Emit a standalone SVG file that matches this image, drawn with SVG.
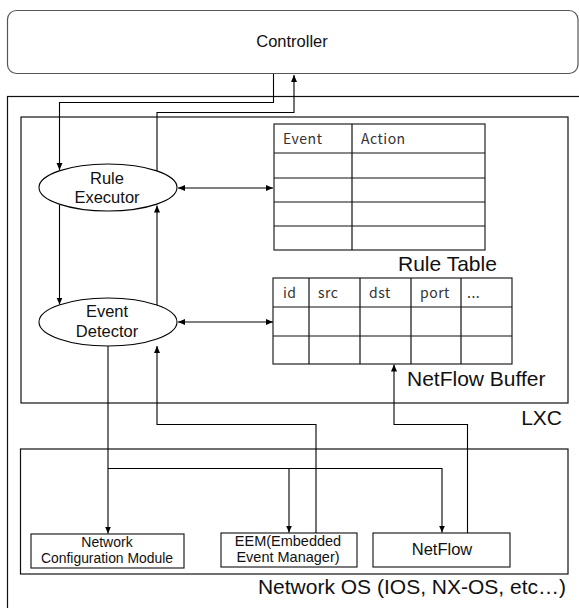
<svg xmlns="http://www.w3.org/2000/svg" width="579" height="608" viewBox="0 0 579 608">
<style>
.box{fill:#fff;stroke:#222;stroke-width:1.2}
.frame{fill:none;stroke:#111;stroke-width:1.2}
.t{font-family:"Liberation Sans",Arial,sans-serif;fill:#111}
.lbl{font-family:"Liberation Sans",Arial,sans-serif;font-size:21px;fill:#111}
.hd{font-family:"Noto Sans CJK JP","Noto Sans",sans-serif;font-size:14px;fill:#333;letter-spacing:0.5px}
.c{fill:none;stroke:#000;stroke-width:1.1}
</style>
<defs>
<marker id="ah" markerWidth="8" markerHeight="8" refX="7" refY="4" orient="auto-start-reverse" markerUnits="userSpaceOnUse">
<path d="M0,1 L7,4 L0,7 z" fill="#000"/>
</marker>
</defs>
<rect width="579" height="608" fill="#fff"/>

<g id="controller">
<rect class="box" x="7.5" y="10.5" width="570.5" height="63" rx="9" ry="9" style="stroke:#555"/>
<text class="t" x="292" y="47" font-size="16.5" text-anchor="middle">Controller</text>
</g>

<g id="network-device">
<rect class="frame" x="7.5" y="96.5" width="580" height="520"/>
</g>

<g id="lxc">
<rect class="frame" x="21" y="117" width="547" height="286"/>
<text class="lbl" x="562" y="425" text-anchor="end">LXC</text>
</g>

<g id="network-os">
<rect class="frame" x="20.5" y="449" width="547.5" height="125"/>
<text class="lbl" x="566" y="594" text-anchor="end">Network OS (IOS, NX-OS, etc…)</text>
</g>

<g id="rule-executor">
<ellipse cx="108" cy="187.5" rx="69" ry="23.5" fill="#fff" stroke="#000" stroke-width="1.1"/>
<text class="t" x="107" y="183.5" font-size="16.5" text-anchor="middle">Rule</text>
<text class="t" x="107" y="203" font-size="16.5" text-anchor="middle">Executor</text>
</g>

<g id="event-detector">
<ellipse cx="108" cy="322" rx="69" ry="24" fill="#fff" stroke="#000" stroke-width="1.1"/>
<text class="t" x="107" y="317" font-size="16.5" text-anchor="middle">Event</text>
<text class="t" x="107" y="337" font-size="16.5" text-anchor="middle">Detector</text>
</g>

<g id="rule-table">
<rect class="box" x="274" y="124" width="211" height="126"/>
<path class="frame" d="M274,153 H485 M274,178 H485 M274,202 H485 M274,226 H485 M352,124 V250"/>
<text class="hd" x="283" y="144">Event</text>
<text class="hd" x="361" y="144">Action</text>
<text class="lbl" x="398" y="271">Rule Table</text>
</g>

<g id="netflow-buffer">
<rect class="box" x="273" y="278" width="239" height="86"/>
<path class="frame" d="M273,307 H512 M273,336 H512 M309,278 V364 M360,278 V364 M411,278 V364 M461,278 V364"/>
<text class="hd" x="283" y="298">id</text>
<text class="hd" x="318" y="298">src</text>
<text class="hd" x="369" y="298">dst</text>
<text class="hd" x="420" y="298">port</text>
<text class="hd" x="467" y="298">...</text>
<text class="lbl" x="407" y="386">NetFlow Buffer</text>
</g>

<g id="network-configuration-module">
<rect class="box" x="31" y="534" width="153" height="34"/>
<text class="t" x="107" y="546.5" font-size="14" text-anchor="middle">Network</text>
<text class="t" x="107" y="562.5" font-size="14" text-anchor="middle" textLength="132" lengthAdjust="spacingAndGlyphs">Configuration Module</text>
</g>

<g id="eem">
<rect class="box" x="221" y="533" width="136" height="34"/>
<text class="t" x="288" y="546" font-size="14.5" text-anchor="middle">EEM(Embedded</text>
<text class="t" x="288" y="562" font-size="14.5" text-anchor="middle">Event Manager)</text>
</g>

<g id="netflow">
<rect class="box" x="373" y="533" width="137" height="34"/>
<text class="t" x="442" y="555" font-size="16.5" text-anchor="middle">NetFlow</text>
</g>

<g id="connectors">
<path class="c" d="M273.5,74 V102.5 H59.5 V170" marker-end="url(#ah)"/>
<path class="c" d="M157,171 V112.5 H294 V75" marker-end="url(#ah)"/>
<path class="c" d="M178,188 H273" marker-start="url(#ah)" marker-end="url(#ah)"/>
<path class="c" d="M59.5,205 V304.5" marker-end="url(#ah)"/>
<path class="c" d="M157,305 V205.5" marker-end="url(#ah)"/>
<path class="c" d="M178,322 H273" marker-start="url(#ah)" marker-end="url(#ah)"/>
<path class="c" d="M108,346 V533.5" marker-end="url(#ah)"/>
<path class="c" d="M108,468.5 H289 V532.5" marker-end="url(#ah)"/>
<path class="c" d="M289,468.5 H442 V532.5" marker-end="url(#ah)"/>
<path class="c" d="M316,533 V424.5 H157 V346" marker-end="url(#ah)"/>
<path class="c" d="M467.5,533 V424.5 H394 V364.5" marker-end="url(#ah)"/>
</g>
</svg>
